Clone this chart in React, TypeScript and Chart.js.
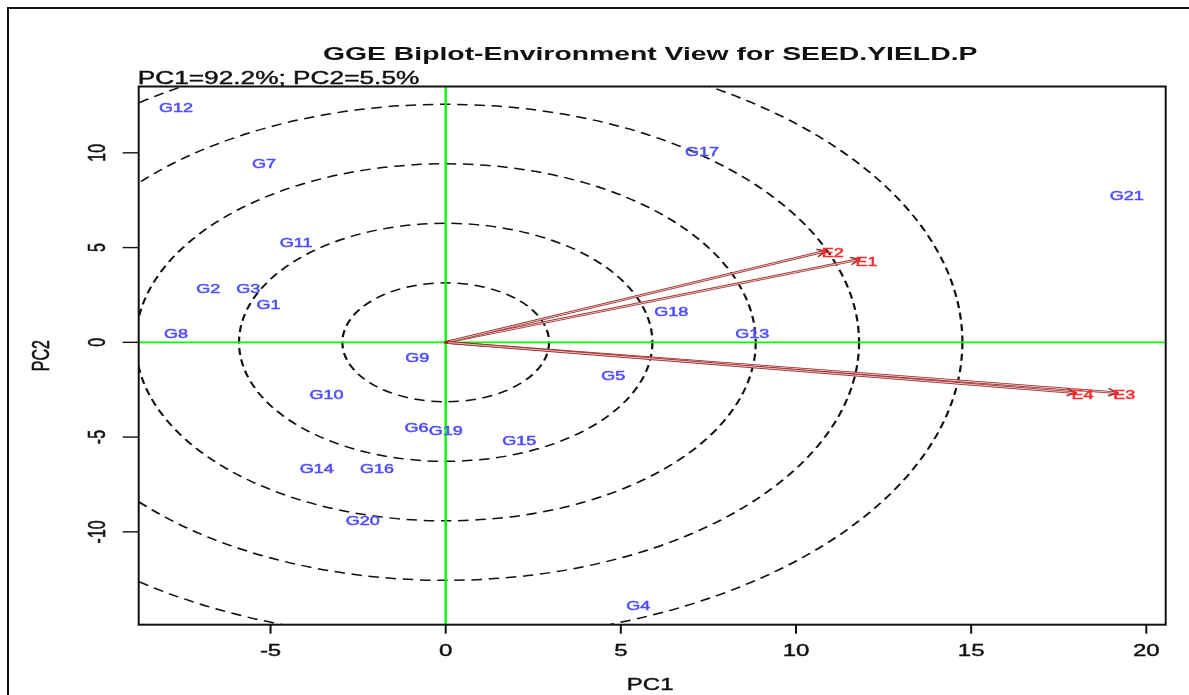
import { useEffect, useRef } from "react";
import { Chart, registerables } from "chart.js";

Chart.register(...registerables);

// Genotype scores (label centres) on the first two principal components
const genotypeNames = ["G1", "G2", "G3", "G4", "G5", "G6", "G7", "G8", "G9", "G10", "G11", "G12", "G13", "G14", "G15", "G16", "G17", "G18", "G19", "G20", "G21"];
const genotypePC1 = [-5.06, -6.78, -5.64, 5.5, 4.78, -0.83, -5.19, -7.7, -0.81, -3.4, -4.27, -7.7, 8.75, -3.68, 2.1, -1.96, 7.32, 6.44, 0.0, -2.37, 19.44];
const genotypePC2 = [2.01, 2.83, 2.83, -13.9, -1.78, -4.49, 9.45, 0.47, -0.81, -2.78, 5.26, 12.4, 0.47, -6.69, -5.19, -6.69, 10.06, 1.61, -4.66, -9.41, 7.72];

// Environment vectors (arrow tips)
const envNames = ["E1", "E2", "E3", "E4"];
const envPC1 = [11.81, 10.85, 19.17, 17.98];
const envPC2 = [4.38, 4.82, -2.66, -2.66];

// Axis ticks
const xTicks = [-5, 0, 5, 10, 15, 20];
const yTicks = [-10, -5, 0, 5, 10];

// Concentric reference rings around the origin (semi-axes on PC1 and PC2)
const ringPC1 = [2.95, 5.9, 8.85, 11.8, 14.75];
const ringPC2 = [3.14, 6.28, 9.42, 12.56, 15.7];

const titleText = "GGE Biplot-Environment View for SEED.YIELD.P";
const subtitleText = "PC1=92.2%; PC2=5.5%";
const xTitleText = "PC1";
const yTitleText = "PC2";

const FONT = "'Liberation Sans', Arial, Helvetica, sans-serif";
const STRETCH = 1.5; // horizontal text/line stretch of the figure

function drawText(
  ctx: CanvasRenderingContext2D,
  text: string,
  x: number,
  y: number,
  size: number,
  color: string,
  opts: { bold?: boolean; align?: CanvasTextAlign; rotate?: boolean; heavy?: number } = {}
) {
  ctx.save();
  ctx.translate(x, y);
  ctx.scale(STRETCH, 1);
  if (opts.rotate) ctx.rotate(-Math.PI / 2);
  ctx.font = `${opts.bold ? "bold " : ""}${size}px ${FONT}`;
  ctx.fillStyle = color;
  ctx.textAlign = opts.align || "center";
  ctx.textBaseline = "alphabetic";
  // y is the vertical centre of the capital letters
  ctx.fillText(text, 0, size * 0.358);
  if (opts.heavy) {
    ctx.strokeStyle = color;
    ctx.lineWidth = opts.heavy;
    ctx.strokeText(text, 0, size * 0.358);
  }
  ctx.restore();
}

const biplotPlugin = {
  id: "biplotDecor",
  afterDatasetsDraw(chart: any) {
    const ctx: CanvasRenderingContext2D = chart.ctx;
    const area = chart.chartArea;
    const xs = chart.scales.x;
    const ys = chart.scales.y;
    const cx = xs.getPixelForValue(0);
    const cy = ys.getPixelForValue(0);

    // outer figure frame
    ctx.save();
    ctx.fillStyle = "#111";
    ctx.fillRect(7, 7, 2, chart.height);
    ctx.fillRect(7, 7, chart.width, 2);
    ctx.restore();

    // dashed rings
    ctx.save();
    ctx.beginPath();
    ctx.rect(area.left, area.top, area.right - area.left, area.bottom - area.top);
    ctx.clip();
    ctx.translate(cx, cy);
    ctx.scale(STRETCH, 1);
    ctx.strokeStyle = "#111";
    ctx.lineWidth = 1.5;
    ctx.setLineDash([7, 4.5]);
    ringPC1.forEach((r, i) => {
      const rx = (xs.getPixelForValue(r) - cx) / STRETCH;
      const ry = cy - ys.getPixelForValue(ringPC2[i]);
      ctx.beginPath();
      ctx.ellipse(0, 0, rx, ry, 0, 0, Math.PI * 2);
      ctx.stroke();
    });
    ctx.restore();

    // green axes through the origin
    ctx.save();
    ctx.strokeStyle = "#00ff00";
    ctx.lineWidth = 2.4;
    ctx.beginPath();
    ctx.moveTo(cx, area.top);
    ctx.lineTo(cx, area.bottom);
    ctx.stroke();
    ctx.lineWidth = 1.6;
    ctx.beginPath();
    ctx.moveTo(area.left, cy);
    ctx.lineTo(area.right, cy);
    ctx.stroke();
    ctx.restore();

    // environment vectors
    const envMeta = chart.getDatasetMeta(1);
    envMeta.data.forEach((pt: any, i: number) => {
      const tx = pt.x;
      const ty = pt.y;
      const ang = Math.atan2(ty - cy, tx - cx);
      ctx.save();
      ctx.lineCap = "round";
      ctx.strokeStyle = "#9e2a2a";
      ctx.lineWidth = 2.6;
      ctx.beginPath();
      ctx.moveTo(cx, cy);
      ctx.lineTo(tx, ty);
      ctx.stroke();
      ctx.strokeStyle = "#f0d2d2";
      ctx.lineWidth = 0.9;
      ctx.beginPath();
      ctx.moveTo(cx + Math.cos(ang) * 3, cy + Math.sin(ang) * 3);
      ctx.lineTo(tx - Math.cos(ang) * 2, ty - Math.sin(ang) * 2);
      ctx.stroke();
      // arrow head
      ctx.strokeStyle = "#9e2a2a";
      ctx.lineWidth = 1.6;
      const hl = 9;
      ctx.beginPath();
      ctx.moveTo(tx - hl * Math.cos(ang - 0.4), ty - hl * Math.sin(ang - 0.4));
      ctx.lineTo(tx, ty);
      ctx.lineTo(tx - hl * Math.cos(ang + 0.4), ty - hl * Math.sin(ang + 0.4));
      ctx.stroke();
      ctx.restore();
      drawText(ctx, envNames[i], tx + 7, ty + 2, 12, "#ff2a2a", { heavy: 0.5 });
    });

    // genotype labels
    const genMeta = chart.getDatasetMeta(0);
    genMeta.data.forEach((pt: any, i: number) => {
      drawText(ctx, genotypeNames[i], pt.x, pt.y, 12, "#4f4fff", { heavy: 0.5 });
    });

    // plot box
    ctx.save();
    ctx.strokeStyle = "#111";
    ctx.lineWidth = 2;
    ctx.strokeRect(area.left, area.top, area.right - area.left, area.bottom - area.top);

    // x ticks
    ctx.lineWidth = 2;
    xTicks.forEach((v) => {
      const px = xs.getPixelForValue(v);
      ctx.beginPath();
      ctx.moveTo(px, area.bottom);
      ctx.lineTo(px, area.bottom + 9);
      ctx.stroke();
      drawText(ctx, String(v), px, 650, 16, "#111", { heavy: 0.4 });
    });
    // y ticks
    ctx.lineWidth = 1.4;
    yTicks.forEach((v) => {
      const py = ys.getPixelForValue(v);
      ctx.beginPath();
      ctx.moveTo(area.left - 16, py);
      ctx.lineTo(area.left, py);
      ctx.stroke();
      drawText(ctx, String(v), 96.7, py, 16, "#111", { rotate: true, heavy: 0.4 });
    });
    ctx.restore();

    // titles
    const midX = (area.left + area.right) / 2;
    const midY = (area.top + area.bottom) / 2;
    drawText(ctx, titleText, midX - 2, 53, 18.9, "#111", { bold: true });
    drawText(ctx, subtitleText, area.left - 1, 77.5, 17.5, "#111", { align: "left", heavy: 0.4 });
    drawText(ctx, xTitleText, midX - 2, 684, 16, "#111", { heavy: 0.4 });
    drawText(ctx, yTitleText, 40, midY, 16, "#111", { rotate: true, heavy: 0.4 });
  },
};

export default function App() {
  const canvasRef = useRef<HTMLCanvasElement | null>(null);

  useEffect(() => {
    const canvas = canvasRef.current;
    if (!canvas) return;
    const chart = new Chart(canvas, {
      type: "scatter",
      data: {
        datasets: [
          {
            label: "Genotypes",
            data: genotypePC1.map((v, i) => ({ x: v, y: genotypePC2[i] })),
            pointRadius: 0,
          },
          {
            label: "Environments",
            data: envPC1.map((v, i) => ({ x: v, y: envPC2[i] })),
            pointRadius: 0,
          },
        ],
      },
      options: {
        responsive: false,
        animation: false,
        devicePixelRatio: 1,
        events: [],
        layout: { padding: { left: 138.7, top: 86.5, right: 23.3, bottom: 70.3 } },
        scales: {
          x: { type: "linear", min: -8.764, max: 20.554, display: false },
          y: { type: "linear", min: -14.9, max: 13.5, display: false },
        },
        plugins: {
          legend: { display: false },
          tooltip: { enabled: false },
          title: { display: false },
        },
      },
      plugins: [biplotPlugin],
    });
    return () => chart.destroy();
  }, []);

  return (
    <div style={{ position: "fixed", left: 0, top: 0, width: 1189, height: 695, background: "#fff" }}>
      <canvas ref={canvasRef} width={1189} height={695} style={{ display: "block" }} />
    </div>
  );
}
